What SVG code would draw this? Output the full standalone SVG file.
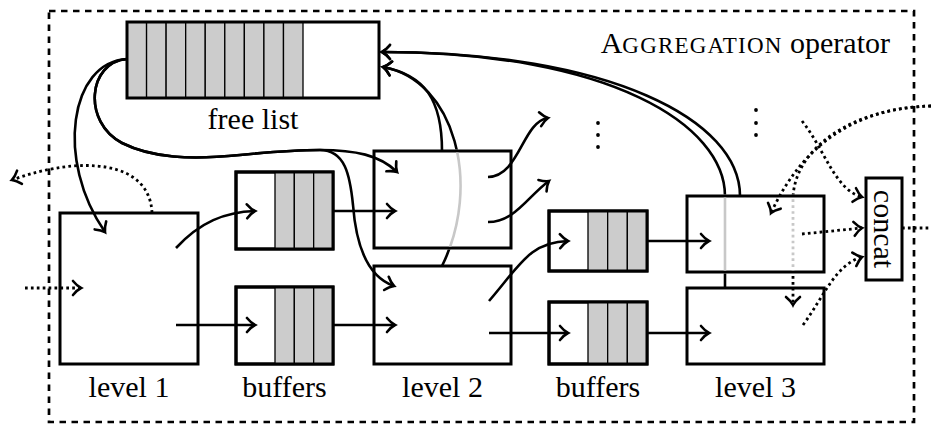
<svg xmlns="http://www.w3.org/2000/svg" width="931" height="428" viewBox="0 0 931 428">
  <style>
    .box { fill: #fff; stroke: #000; stroke-width: 3; }
    .frame { fill: none; stroke: #000; stroke-width: 3; }
    .cell { fill: #ccc; stroke: #000; stroke-width: 1.3; }
    .wire { fill: none; stroke: #000; stroke-width: 2.6; }
    .arr { marker-end: url(#tip); }
    .dot { stroke-dasharray: 2.7 3.2; stroke-width: 2.8; }
    .hid { stroke: #c8c8c8; }
    .lbl { font-family: "Liberation Serif", "Times New Roman", serif; font-size: 30px; fill: #000; }
    .sc { font-size: 23px; letter-spacing: 1.2px; }
  </style>
  <defs>
    <marker id="tip" markerUnits="userSpaceOnUse" viewBox="-12 -12 24 24" markerWidth="24" markerHeight="24" refX="0" refY="0" orient="auto">
      <path d="M-8,-7 C-4.5,-2.8 -1.6,-0.8 0,0 C-1.6,0.8 -4.5,2.8 -8,7" fill="none" stroke="#000" stroke-width="2.6" stroke-linecap="round"/>
    </marker>
    <!-- regions outside / inside the upper level-2 box -->
    <clipPath id="out-l2t">
      <path clip-rule="evenodd" d="M0,0H931V428H0Z M372.5,149.5H512.5V249.5H372.5Z"/>
    </clipPath>
    <clipPath id="in-l2t">
      <rect x="375.5" y="152.5" width="134" height="94"/>
    </clipPath>
    <!-- regions outside / inside the upper level-3 box -->
    <clipPath id="out-l3t">
      <path clip-rule="evenodd" d="M0,0H931V428H0Z M685.5,194.5H825.5V273.5H685.5Z"/>
    </clipPath>
    <clipPath id="in-l3t">
      <rect x="688.5" y="197.5" width="134" height="73"/>
    </clipPath>
  </defs>

  <!-- operator frame -->
  <g id="operator">
    <rect x="49" y="11" width="865" height="411" fill="none" stroke="#000" stroke-width="2.7" stroke-dasharray="6.5 5.5"/>
    <text class="lbl" x="890" y="53" text-anchor="end">A<tspan class="sc">GGREGATION</tspan> operator</text>
  </g>

  <!-- free list: nine used slots and free space -->
  <g id="free-list">
    <rect x="127" y="22" width="252" height="76" fill="#fff"/>
    <rect class="cell" x="127" y="22" width="19.56" height="76"/>
    <rect class="cell" x="146.56" y="22" width="19.56" height="76"/>
    <rect class="cell" x="166.12" y="22" width="19.56" height="76"/>
    <rect class="cell" x="185.68" y="22" width="19.56" height="76"/>
    <rect class="cell" x="205.24" y="22" width="19.56" height="76"/>
    <rect class="cell" x="224.8" y="22" width="19.56" height="76"/>
    <rect class="cell" x="244.36" y="22" width="19.56" height="76"/>
    <rect class="cell" x="263.92" y="22" width="19.56" height="76"/>
    <rect class="cell" x="283.48" y="22" width="19.52" height="76"/>
    <rect class="frame" x="127" y="22" width="252" height="76"/>
    <text class="lbl" x="253" y="129" text-anchor="middle">free list</text>
  </g>

  <g id="level1">
    <rect class="box" x="60" y="213" width="138" height="151"/>
    <text class="lbl" x="129" y="397" text-anchor="middle">level 1</text>
  </g>

  <g id="buffers1-top">
    <rect class="box" x="236" y="172" width="97" height="77"/>
    <rect class="cell" x="275" y="172" width="19.33" height="77"/>
    <rect class="cell" x="294.33" y="172" width="19.33" height="77"/>
    <rect class="cell" x="313.66" y="172" width="19.34" height="77"/>
    <rect class="frame" x="236" y="172" width="97" height="77"/>
  </g>
  <g id="buffers1-bottom">
    <rect class="box" x="236" y="287" width="97" height="77"/>
    <rect class="cell" x="275" y="287" width="19.33" height="77"/>
    <rect class="cell" x="294.33" y="287" width="19.33" height="77"/>
    <rect class="cell" x="313.66" y="287" width="19.34" height="77"/>
    <rect class="frame" x="236" y="287" width="97" height="77"/>
    <text class="lbl" x="284.5" y="397" text-anchor="middle">buffers</text>
  </g>

  <g id="level2-top">
    <rect class="box" x="374" y="151" width="137" height="97"/>
  </g>
  <g id="level2-bottom">
    <rect class="box" x="374" y="266" width="137" height="98"/>
    <text class="lbl" x="442.5" y="397" text-anchor="middle">level 2</text>
  </g>

  <g id="buffers2-top">
    <rect class="box" x="549" y="211" width="98" height="60"/>
    <rect class="cell" x="588" y="211" width="19.67" height="60"/>
    <rect class="cell" x="607.67" y="211" width="19.67" height="60"/>
    <rect class="cell" x="627.34" y="211" width="19.66" height="60"/>
    <rect class="frame" x="549" y="211" width="98" height="60"/>
  </g>
  <g id="buffers2-bottom">
    <rect class="box" x="549" y="302" width="98" height="62"/>
    <rect class="cell" x="588" y="302" width="19.67" height="62"/>
    <rect class="cell" x="607.67" y="302" width="19.67" height="62"/>
    <rect class="cell" x="627.34" y="302" width="19.66" height="62"/>
    <rect class="frame" x="549" y="302" width="98" height="62"/>
    <text class="lbl" x="598" y="397" text-anchor="middle">buffers</text>
  </g>

  <g id="level3-top">
    <rect class="box" x="687" y="196" width="137" height="76"/>
  </g>
  <g id="level3-bottom">
    <rect class="box" x="687" y="288" width="137" height="76"/>
    <text class="lbl" x="755.5" y="397" text-anchor="middle">level 3</text>
  </g>

  <g id="concat">
    <rect class="box" x="866" y="178" width="36" height="102"/>
    <text class="lbl" transform="translate(874,229) rotate(90)" text-anchor="middle">concat</text>
  </g>

  <!-- further levels continue -->
  <g id="more-levels" fill="#000">
    <circle cx="598" cy="123" r="1.9"/>
    <circle cx="598" cy="135" r="1.9"/>
    <circle cx="598" cy="147" r="1.9"/>
    <circle cx="756" cy="110" r="1.9"/>
    <circle cx="756" cy="123" r="1.9"/>
    <circle cx="756" cy="135" r="1.9"/>
  </g>

  <g id="connectors">
    <!-- input and spill -->
    <path class="wire dot arr" d="M25,288 L81,288"/>
    <path class="wire dot arr" d="M152,213 C150,160 80,155 12,180"/>

    <!-- free list hands out blocks -->
    <path class="wire arr" d="M127,59 C70,62 55,160 105,232"/>
    <path class="wire arr" d="M127,59 C88,62 82,122 122,143 C152,158 190,160 240,155 C270,152 290,150 320,150 C355,150 380,155 397,172"/>
    <path class="wire arr" d="M127,59 C88,62 82,122 122,143 C152,158 190,160 240,155 C270,152 290,150 320,150 C345,150 350,175 353,205 C356,245 368,277 394,286"/>

    <!-- level 1 to buffers to level 2 -->
    <path class="wire arr" d="M176,248 C200,222 225,212 255,211"/>
    <path class="wire arr" d="M176,325 L255,325"/>
    <path class="wire arr" d="M333,211 L395,211"/>
    <path class="wire arr" d="M333,325 L395,325"/>

    <!-- level 2 outputs -->
    <path class="wire arr" d="M488,177 C520,176 522,122 548,118"/>
    <path class="wire arr" d="M488,222 C515,222 528,196 549,181"/>
    <path class="wire arr" d="M489,301 C520,265 530,242 568,241"/>
    <path class="wire arr" d="M489,333 L568,333"/>

    <!-- buffers to level 3 -->
    <path class="wire arr" d="M647,241 L709,241"/>
    <path class="wire arr" d="M647,333 L709,333"/>

    <!-- blocks returned to the free list -->
    <path class="wire arr" d="M442,151 C442,100 425,75 383,67"/>
    <path class="wire arr" clip-path="url(#out-l2t)" d="M442,266 C482,185 455,80 383,67"/>
    <path class="wire hid" clip-path="url(#in-l2t)" d="M442,266 C482,185 455,80 383,67"/>
    <path class="wire arr" d="M740,196 C740,120 610,52 382,52"/>
    <path class="wire arr" clip-path="url(#out-l3t)" d="M725,288 L725,196 C725,125 610,52 382,52"/>
    <path class="wire hid" clip-path="url(#in-l3t)" d="M725,288 L725,196"/>

    <!-- partial results around level 3 and concat -->
    <path class="wire dot arr" d="M802,121 C825,150 835,190 862,197"/>
    <path class="wire dot arr" d="M931,106 C850,108 800,150 771,213"/>
    <path class="wire dot arr" clip-path="url(#out-l3t)" d="M931,106 C850,108 793,150 793,200 L793,305"/>
    <path class="wire dot hid" clip-path="url(#in-l3t)" d="M931,106 C850,108 793,150 793,200 L793,305"/>
    <path class="wire dot arr" d="M802,234 L862,228"/>
    <path class="wire dot arr" d="M803,325 C825,295 835,265 862,257"/>
    <path class="wire dot" d="M902,228 L931,228"/>
  </g>
</svg>
